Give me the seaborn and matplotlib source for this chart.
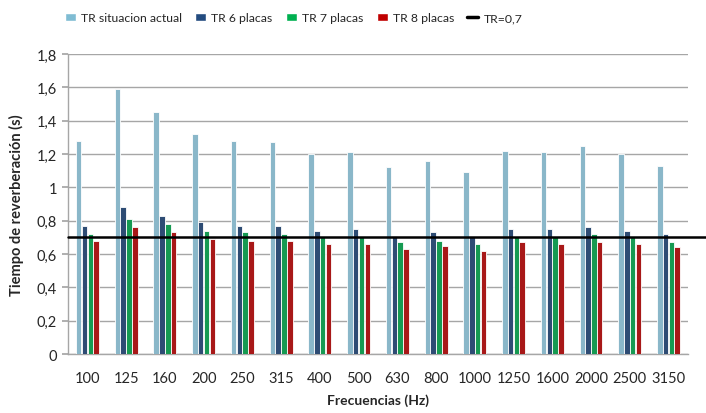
import pandas as pd
import matplotlib
matplotlib.use("Agg")
import matplotlib.pyplot as plt
import matplotlib.ticker as mticker
from matplotlib.patches import Patch
from matplotlib.lines import Line2D
import seaborn as sns

# datos
frecuencias = ['100', '125', '160', '200', '250', '315', '400', '500',
               '630', '800', '1000', '1250', '1600', '2000', '2500', '3150']
tr_actual = [1.28, 1.59, 1.45, 1.32, 1.28, 1.27, 1.20, 1.21,
             1.12, 1.16, 1.09, 1.22, 1.21, 1.25, 1.20, 1.13]
tr_6 = [0.77, 0.88, 0.83, 0.79, 0.77, 0.77, 0.74, 0.75,
        0.71, 0.73, 0.70, 0.75, 0.75, 0.76, 0.74, 0.72]
tr_7 = [0.72, 0.81, 0.78, 0.74, 0.73, 0.72, 0.70, 0.70,
        0.67, 0.68, 0.66, 0.70, 0.70, 0.72, 0.70, 0.67]
tr_8 = [0.68, 0.76, 0.73, 0.69, 0.68, 0.68, 0.66, 0.66,
        0.63, 0.65, 0.62, 0.67, 0.66, 0.67, 0.66, 0.64]
tr_ref = 0.7

series = ['TR situacion actual', 'TR 6 placas', 'TR 7 placas', 'TR 8 placas']
colores = ['#7fbcd3', '#234b7f', '#00b050', '#c00000']

df = pd.DataFrame({
    'frecuencia': frecuencias * 4,
    'serie': [s for s in series for _ in frecuencias],
    'tr': tr_actual + tr_6 + tr_7 + tr_8,
})

sns.set_theme(style="white")
plt.rcParams['font.family'] = ['Lato', 'DejaVu Sans']

fig = plt.figure(figsize=(7.06, 4.14), dpi=100)
ax = fig.add_axes([0.0963, 0.1425, 0.878, 0.7245])

sns.barplot(data=df, x='frecuencia', y='tr', hue='serie', order=frecuencias,
            hue_order=series, palette=colores, width=0.6, gap=0.05,
            edgecolor='white', linewidth=0.6, legend=False, ax=ax, zorder=3)

# linea de referencia TR=0,7 (sale un poco del area del grafico)
ax.axhline(tr_ref, xmin=0, xmax=1.03, color='black', linewidth=1.8,
           clip_on=False, zorder=4)

ax.set_ylim(0, 1.8)
ax.set_xlim(-0.5, len(frecuencias) - 0.5)
ax.yaxis.set_major_locator(mticker.MultipleLocator(0.2))
ax.yaxis.set_major_formatter(mticker.FuncFormatter(
    lambda v, _: f'{v:.1f}'.rstrip('0').rstrip('.').replace('.', ',')))
ax.grid(axis='y', color='#a6a6a6', linewidth=1.0, zorder=0)
ax.set_axisbelow(True)

for side in ['top', 'right']:
    ax.spines[side].set_visible(False)
for side in ['left', 'bottom']:
    ax.spines[side].set_color('#a6a6a6')
    ax.spines[side].set_linewidth(1.0)

ax.tick_params(axis='y', length=4, color='#a6a6a6', labelsize=10.5, pad=4, left=True)
ax.tick_params(axis='x', length=0, labelsize=10.5, pad=12)

ax.set_xlabel('Frecuencias (Hz)', fontsize=10, fontweight='bold', labelpad=6)
ax.set_ylabel('Tiempo de reverberación (s)', fontsize=10.5, fontweight='bold', labelpad=9)

handles = [Patch(facecolor=c, edgecolor='white', label=s) for s, c in zip(series, colores)]
handles.append(Line2D([0], [0], color='black', linewidth=2.5, label='TR=0,7'))
fig.legend(handles=handles, loc='center', bbox_to_anchor=(0.416, 0.955), ncol=5,
           frameon=False, fontsize=8.8, handlelength=0.9, handleheight=0.7,
           handletextpad=0.4, columnspacing=1.1)

plt.savefig('out.png', dpi=100)
plt.close()
